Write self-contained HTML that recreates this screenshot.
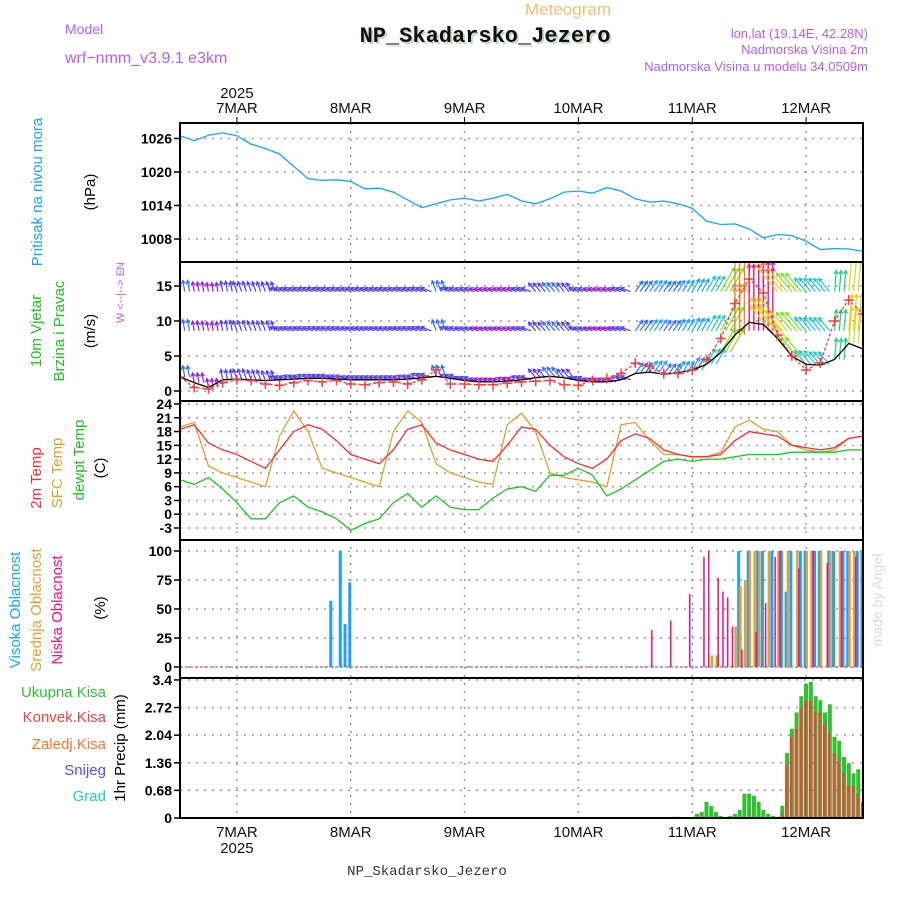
<!DOCTYPE html>
<html><head><meta charset="utf-8"><style>
html,body{margin:0;padding:0;background:#fff;}
svg{display:block;font-family:"Liberation Sans",sans-serif;}
</style></head><body>
<svg id="c" width="900" height="900" viewBox="0 0 900 900" xmlns="http://www.w3.org/2000/svg">
<defs>
<clipPath id="cp1"><rect x="180" y="123" width="683" height="139"/></clipPath>
<clipPath id="cp2"><rect x="180" y="262" width="683" height="139"/></clipPath>
<clipPath id="cp3"><rect x="180" y="401" width="683" height="139"/></clipPath>
<clipPath id="cp4"><rect x="180" y="540" width="683" height="138"/></clipPath>
<clipPath id="cp5"><rect x="180" y="678" width="683" height="140"/></clipPath>
</defs>
<text x="568" y="15" text-anchor="middle" font-size="17" fill="#f0c070">Meteogram</text>
<text x="487" y="44" text-anchor="middle" font-size="22" font-weight="bold" font-family="Liberation Mono, monospace" fill="#c8d8c8">NP_Skadarsko_Jezero</text>
<text x="485" y="42" text-anchor="middle" font-size="22" font-weight="bold" font-family="Liberation Mono, monospace" fill="#111">NP_Skadarsko_Jezero</text>
<text x="65" y="34" font-size="14" fill="#b060f0">Model</text>
<text x="65" y="63" font-size="16" fill="#b060f0">wrf−nmm_v3.9.1  e3km</text>
<text x="868" y="38" text-anchor="end" font-size="13" fill="#b060f0">lon,lat (19.14E, 42.28N)</text>
<text x="868" y="54" text-anchor="end" font-size="13" fill="#b060f0">Nadmorska Visina 2m</text>
<text x="868" y="71" text-anchor="end" font-size="13" fill="#b060f0">Nadmorska Visina u modelu 34.0509m</text>
<text x="882" y="600" text-anchor="middle" font-size="14" fill="#d4dcd4" transform="rotate(-90 882 600)">made by Angel</text>
<text x="427" y="875" text-anchor="middle" font-size="14" font-family="Liberation Mono, monospace" fill="#333">NP_Skadarsko_Jezero</text>
<g id="g"></g>
</svg>
<script>
// ---------- data (hours since 6 MAR 12Z) ----------
const dayLabels=["7MAR","8MAR","9MAR","10MAR","11MAR","12MAR"];
const dayHours=[12,36,60,84,108,132];
const pressTicks=[1008,1014,1020,1026];
const windTicks=[0,5,10,15];
const tempTicks=[-3,0,3,6,9,12,15,18,21,24];
const cloudTicks=[0,25,50,75,100];
const precTicks=["0","0.68","1.36","2.04","2.72","3.4"];
const hours3=[0,3,6,9,12,15,18,21,24,27,30,33,36,39,42,45,48,51,54,57,60,63,66,69,72,75,78,81,84,87,90,93,96,99,102,105,108,111,114,117,120,123,126,129,132,135,138,141,144];
const pressure=[1026.5,1025.6,1026.6,1027,1026.5,1025,1024.2,1023.2,1021,1018.8,1018.5,1018.6,1018.3,1017,1017.1,1016.4,1015,1013.6,1014.3,1015,1015.3,1014.8,1015.3,1016,1014.8,1014.3,1015.2,1016.4,1016.6,1016.2,1017.2,1016.6,1015.2,1014.6,1014.8,1014.3,1013.5,1011.2,1010.6,1010.7,1009.8,1008.2,1008.8,1008.6,1007.6,1006.1,1006.3,1006.2,1005.8];
const temp2m=[18.5,19.5,15.5,14,13,11.5,10,14,18,19.5,18.5,16,13,12,11,14,18.5,19.5,15.5,14,13,12,11.5,15,19,18.5,15,12.5,11,10,12,16,17.5,16.5,14,13,12.5,12.5,13,16,18,17.5,17,15,14.5,14,14.5,16.5,17];
const tempSfc=[19,20,10.5,9,8,7,6,17,22.5,18,10,9,8,7,6,18,22.5,20,11,9,8,7,6.5,19.5,22,18,9,8,7.5,7,6,19.5,20,16,13,13,12.5,12.5,13.5,19,20.5,18.5,18,15,14,13.5,14,16.5,17];
const dewpt=[7.5,6.5,8,5.5,2.5,-1,-1,2.5,4,1.5,0.5,-1,-3.5,-2,-1,2.5,4.5,1.5,4,1.5,1,1,3.5,5.5,6,5,8.5,8.5,10,8.5,4,5.5,7.5,9.5,11.5,12,11.5,12,12,12.5,13,13,13,13.5,13.5,13.5,13.5,14,14];
const windSpd=[2.0,1.2,0.5,1.6,1.7,1.6,1.5,1.6,1.7,1.8,1.8,1.7,1.6,1.6,1.6,1.6,1.7,1.9,2.1,1.8,1.5,1.3,1.3,1.4,1.6,1.9,2.1,1.9,1.5,1.3,1.3,1.6,2.5,2.7,2.4,2.6,3.0,3.8,5.5,8.0,9.8,9.5,7.5,5.0,3.8,3.7,4.5,6.8,6.0];
const windGust=[2,0.5,0.3,1.2,1.6,1.5,1.0,0.8,1.2,1.5,1.3,1.5,1.0,0.9,1.2,1.3,1.0,1.6,3.0,1.0,1.0,0.9,0.9,1.1,1.3,1.4,1.5,0.9,0.8,1.5,1.8,2.5,4.0,3.5,2.5,2.5,3.0,4.5,7.5,12.5,16,14,8,5,3,4,10,13,11];
const windDir=[-10,-10,-10,-10,-20,-20,-20,-70,-70,-70,-70,-70,-70,-70,-70,-70,-70,-70,-20,-70,-70,-70,-70,-70,-70,-40,-40,-40,-70,-70,-70,-70,35,35,35,30,30,30,30,0,0,0,-40,-40,-40,-40,5,5,5];
const highHours=[32,34,35,36,118,120,122,123,125,127,128,129,131,132,134,135,137,138,140,141,143,144];
const highVals=[57,100,37,73,100,100,100,100,100,100,65,100,100,100,100,100,100,100,100,100,100,100];
const midHours=[112,113,117,118,119,120,121,122,124,126,128,130,132,133,135,137,139,141,142,144];
const midVals=[10,10,35,70,75,100,100,100,100,100,100,100,100,100,100,100,100,100,100,100];
const lowHours=[99,103,107,110,111,113,114,115,116,118,121,123,125,126,130,133,136,139,142];
const lowVals=[32,40,63,95,100,77,65,60,35,15,30,55,95,100,85,100,90,100,95];
const precHours=[104,105,106,107,108,109,110,111,112,113,114,115,116,117,118,119,120,121,122,123,124,125,126,127,128,129,130,131,132,133,134,135,136,137,138,139,140,141,142,143,144];
const precTotal=[0.03,0.03,0,0,0,0.1,0.15,0.4,0.3,0.15,0.05,0,0.05,0.1,0.2,0.6,0.6,0.55,0.4,0.2,0.1,0.05,0.03,0.3,1.6,2.2,2.6,3.0,3.3,3.35,3.0,2.9,2.6,2.8,2.0,1.9,1.5,1.35,1.1,1.2,0.4];
const precConv=[0,0,0,0,0,0,0,0,0,0,0,0,0,0,0,0,0,0,0,0,0,0,0,0.1,1.3,2.0,2.2,2.7,2.9,2.9,2.6,2.6,2.3,2.1,1.6,1.4,1.1,0.8,0.8,0.6,0.35];

// ---------- scales ----------
const X=h=>180+h*683/144;
const yP=p=>239-(p-1008)*33.5/6;
const yW=v=>391-v*7;
const yT=t=>528-(t+3)*124/27;
const yC=c=>667-c*1.16;
const yR=p=>818-p*40.6;
const NS="http://www.w3.org/2000/svg";
const G=document.getElementById('g');
function mk(tag,attrs,parent){const e=document.createElementNS(NS,tag);for(const k in attrs)e.setAttribute(k,attrs[k]);(parent||G).appendChild(e);return e;}

const panels=[[123,262,'pressure-panel'],[262,401,'wind-panel'],[401,540,'temperature-panel'],[540,678,'cloud-panel'],[678,818,'precip-panel']];
dayHours.forEach(h=>{const l=mk('line',{x1:X(h),x2:X(h),y1:123,y2:818,stroke:'#999','stroke-dasharray':'2,6','stroke-width':1.5});

});
function hgrid(ticks,f,fmt,nm){ticks.forEach(t=>{const y=f(+t);
const l=mk('line',{x1:180,x2:863,y1:y,y2:y,stroke:'#999','stroke-dasharray':'2,6','stroke-width':1.5});


const k=mk('line',{x1:174,x2:180,y1:y,y2:y,stroke:'#000','stroke-width':1.5});


const tx=mk('text',{x:172,y:y+5,'text-anchor':'end','font-size':14,'font-weight':'bold',fill:'#000'});
tx.textContent=fmt?fmt(t):t;

});}
hgrid(pressTicks,yP,null,'pressure');
hgrid(windTicks,yW,null,'wind');
hgrid(tempTicks,yT,null,'temperature');
hgrid(cloudTicks,yC,null,'cloud');
hgrid(precTicks,yR,null,'precip');

dayHours.forEach((h,i)=>{
 const t=mk('text',{x:X(h),y:113,'text-anchor':'middle','font-size':15,fill:'#111'});t.textContent=dayLabels[i];
 
 
 const b=mk('text',{x:X(h),y:837,'text-anchor':'middle','font-size':15,fill:'#111'});b.textContent=dayLabels[i];
 
 
 const k=mk('line',{x1:X(h),x2:X(h),y1:117,y2:123,stroke:'#000'});
 
 
});
let y1=mk('text',{x:X(12),y:98,'text-anchor':'middle','font-size':15,fill:'#111'});y1.textContent='2025';


let y2=mk('text',{x:X(12),y:853,'text-anchor':'middle','font-size':15,fill:'#111'});y2.textContent='2025';



function line(hs,vs,f,color,clip,nm,extra){const d=hs.map((h,i)=>(i?'L':'M')+X(h).toFixed(1)+','+f(vs[i]).toFixed(1)).join('');
const p=mk('path',Object.assign({d:d,fill:'none',stroke:color,'stroke-width':1.3,'clip-path':'url(#'+clip+')'},extra||{}));

return p;}

line(hours3,pressure,yP,'#1ea0ff','cp1','pressure-line');
line(hours3,tempSfc,yT,'#e0a030','cp3','sfc-temp-line');
line(hours3,temp2m,yT,'#f03030','cp3','temp-2m-line');
line(hours3,dewpt,yT,'#20c020','cp3','dewpoint-line');

function spdColor(s){if(s<1.5)return '#9020e0';if(s<2)return '#5040f0';if(s<2.6)return '#3070ff';if(s<3.2)return '#20a0ff';if(s<4)return '#20c8c8';if(s<5)return '#20d080';if(s<6.5)return '#80e020';if(s<8)return '#e8d020';if(s<9)return '#f08020';return '#f01080';}
const wg=mk('g',{'clip-path':'url(#cp2)'});


function arrow(x,base,s,dir){const y=base,L=9+s*s*0.6,a=dir*Math.PI/180;
 const x2=x+L*Math.sin(a),y2=y-L*Math.cos(a);const c=spdColor(s);
 const ha=a+Math.PI;const hx1=x2+4*Math.sin(ha+0.5),hy1=y2-4*Math.cos(ha+0.5),hx2=x2+4*Math.sin(ha-0.5),hy2=y2-4*Math.cos(ha-0.5);
 const p=mk('path',{d:`M${x},${y}L${x2},${y2}M${hx1},${hy1}L${x2},${y2}L${hx2},${hy2}`,stroke:c,'stroke-width':1.2,fill:'none'},wg);
 
 }
hours3.forEach((h,i)=>{
 for(let k=0;k<3;k++){const x=X(h)+k*4.74;
  arrow(x,yW(14.2),windSpd[i],windDir[i]);
  arrow(x,yW(8.6),windSpd[i],windDir[i]);
  arrow(x,yW(windSpd[i]),windSpd[i],windDir[i]);}
});
line(hours3,windSpd,yW,'#000','cp2','wind-speed-line');
line(hours3,windGust,yW,'#f04040','cp2','wind-gust-line',{'stroke-dasharray':'3,2'});
hours3.forEach((h,i)=>{const x=X(h),y=yW(windGust[i]);
 const p=mk('path',{d:`M${x-5},${y}h10M${x},${y-5}v10`,stroke:'#f04040','stroke-width':1.5,'clip-path':'url(#cp2)'});
 
 });

const zl=mk('line',{x1:180,x2:863,y1:yC(0),y2:yC(0),stroke:'#c06090','stroke-width':1.2,'stroke-dasharray':'3,2'});


function bars(hs,vs,f,color,off,w,clip,nm){hs.forEach((h,i)=>{const y=f(vs[i]);
 const r=mk('rect',{x:X(h)+off,y:y,width:w,height:Math.max(0,f(0)-y),fill:color,'clip-path':'url(#'+clip+')'});
 
 });}
bars(highHours,highVals,yC,'#1ea0ff',-2.5,3,'cp4','high-cloud-bar');
bars(midHours,midVals,yC,'#e8a030',-0.5,2.5,'cp4','mid-cloud-bar');
bars(lowHours,lowVals,yC,'#f01080',1.5,1.5,'cp4','low-cloud-bar');

const pz=mk('line',{x1:180,x2:863,y1:yR(0),y2:yR(0),stroke:'#000','stroke-width':1.5,'stroke-dasharray':'6,3'});


bars(precHours,precTotal,yR,'#30c030',-2,4,'cp5','total-precip-bar');
bars(precHours,precConv,yR,'#f04040',-2,2.5,'cp5','convective-precip-bar');

panels.forEach(p=>{const r=mk('rect',{x:180,y:p[0],width:683,height:p[1]-p[0],fill:'none',stroke:'#000','stroke-width':2});

});

function vlab(txt,x,y,color,size,nm){const t=mk('text',{x:x,y:y,'text-anchor':'middle','font-size':size||14,fill:color,transform:`rotate(-90 ${x} ${y})`});t.textContent=txt;

}
vlab('Pritisak na nivou mora',42,192,'#1ea0ff',15,'pressure-axis-title');
vlab('(hPa)',95,192,'#000',15,'pressure-unit');
vlab('10m Vjetar',41,331,'#20c020',15,'wind-axis-title');
vlab('Brzina i Pravac',64,331,'#20c020',15,'wind-axis-subtitle');
vlab('(m/s)',95,331,'#000',15,'wind-unit');
vlab('W <--|--> E',124,296,'#b060f0',11,'wind-compass-ew');
vlab('N',124,266,'#b060f0',11,'wind-compass-n');
vlab('2m Temp',41,478,'#f03030',15,'temp-2m-label');
vlab('SFC Temp',62,473,'#e0a030',15,'sfc-temp-label');
vlab('dewpt Temp',84,460,'#20c020',15,'dewpoint-label');
vlab('(C)',105,468,'#000',15,'temp-unit');
vlab('Visoka Oblacnost',20,610,'#1ea0ff',15,'high-cloud-label');
vlab('Srednja Oblacnost',41,610,'#e8a030',15,'mid-cloud-label');
vlab('Niska Oblacnost',62,610,'#f01080',15,'low-cloud-label');
vlab('(%)',105,608,'#000',15,'cloud-unit');
vlab('1hr Precip (mm)',125,748,'#000',15,'precip-axis-title');
[['Ukupna Kisa','#30c030',697,'total-precip-legend'],['Konvek.Kisa','#f04040',722,'convective-precip-legend'],['Zaledj.Kisa','#f07830',749,'frozen-precip-legend'],['Snijeg','#5050f0',775,'snow-legend'],['Grad','#20c8c8',801,'hail-legend']].forEach(a=>{
 const t=mk('text',{x:106,y:a[2],'text-anchor':'end','font-size':15,fill:a[1]});t.textContent=a[0];
 
 });
</script>
</body></html>
